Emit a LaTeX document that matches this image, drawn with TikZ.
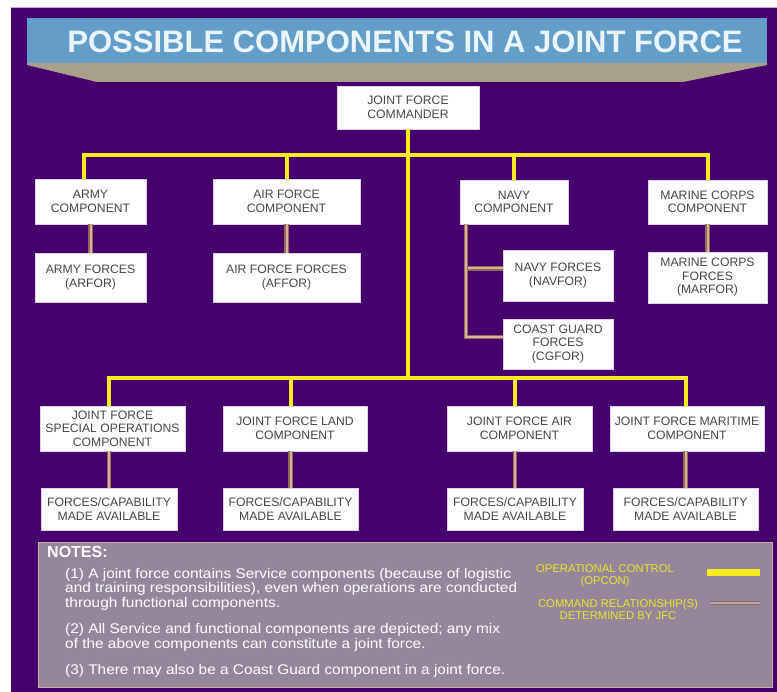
\documentclass[tikz,border=0pt]{standalone}
\usepackage{fontspec}
\setmainfont{Liberation Sans}
\newfontfamily\notesfont[FakeStretch=1.1]{Liberation Sans}
\definecolor{bgpurple}{RGB}{70,0,108}
\definecolor{bgedge}{RGB}{200,170,220}
\definecolor{bannerblue}{RGB}{98,158,200}
\definecolor{bannertan}{RGB}{168,160,138}
\definecolor{titlewhite}{RGB}{235,245,255}
\definecolor{boxedge}{RGB}{220,210,225}
\definecolor{boxtext}{RGB}{70,70,70}
\definecolor{opyellow}{RGB}{245,235,30}
\definecolor{relbrown}{RGB}{150,105,85}
\definecolor{relinner}{RGB}{215,180,160}
\definecolor{notesfill}{RGB}{150,134,156}
\definecolor{notesedge}{RGB}{205,175,165}
\definecolor{legendyellow}{RGB}{232,232,40}
\usetikzlibrary{calc}
\tikzstyle{unitbox}=[
        fill=white,
        draw=boxedge,
        inner sep=1pt,
        align=center,
        text=boxtext,
        font=\fontsize{12.2}{13.5}\selectfont
]
\tikzstyle{opcon}=[
        draw=opyellow,
        line width=4pt
]
\tikzstyle{cmdrel}=[
        draw=relbrown,
        double=relinner,
        line width=1.3pt,
        double distance=2pt
]
\tikzstyle{legendtext}=[
        text=legendyellow,
        align=center,
        inner sep=0pt,
        font=\fontsize{11.3}{12}\selectfont
]

\begin{document}
\begin{tikzpicture}[x=1pt,y=-1pt]
                    \useasboundingbox (0,0) rectangle (777,692);
                    \fill[white] (0,0) rectangle (777,692);
                    \fill[bgpurple] (11,8) rectangle (777,692);
                    \draw[bgedge, line width=1pt] (11,8) -- (777,8);

                    \fill[bannerblue] (27,18) rectangle (767,63);
                    \fill[bannertan] (27,63) -- (767,63) -- (767,65) -- (683,82) -- (97,82) -- (27,65) -- cycle;
                    \node[text=titlewhite, font=\fontsize{31}{31}\bfseries] (title) at (405,42) {POSSIBLE COMPONENTS IN A JOINT FORCE};

                    \node[unitbox, minimum width=142, minimum height=43] (jfc) at (408,107.5) {JOINT FORCE\\COMMANDER};

                    \node[unitbox, minimum width=111, minimum height=45] (army) at (90.5,201.5) {ARMY\\COMPONENT};
                    \node[unitbox, minimum width=147, minimum height=45] (airf) at (286.5,201.5) {AIR FORCE\\COMPONENT};
                    \node[unitbox, minimum width=108, minimum height=44] (navy) at (514,202) {NAVY\\COMPONENT};
                    \node[unitbox, minimum width=119, minimum height=44] (marine) at (707.5,202) {MARINE CORPS\\COMPONENT};

                    \node[unitbox, minimum width=111, minimum height=49] (armyfor) at (90.5,277.5) {ARMY FORCES\\(ARFOR)};
                    \node[unitbox, minimum width=147, minimum height=49] (airfor) at (286.5,277.5) {AIR FORCE FORCES\\(AFFOR)};
                    \node[unitbox, minimum width=110, minimum height=51] (navyfor) at (558,275.5) {NAVY FORCES\\(NAVFOR)};
                    \node[unitbox, minimum width=119, minimum height=51] (marinefor) at (707.5,277.5) {MARINE CORPS\\FORCES\\(MARFOR)};
                    \node[unitbox, minimum width=110, minimum height=50] (cgfor) at (558,344) {COAST GUARD\\FORCES\\(CGFOR)};

                    \node[unitbox, minimum width=145, minimum height=45] (sof) at (112.5,428.5) {JOINT FORCE\\SPECIAL OPERATIONS\\COMPONENT};
                    \node[unitbox, minimum width=144, minimum height=45] (land) at (295,428.5) {JOINT FORCE LAND\\COMPONENT};
                    \node[unitbox, minimum width=145, minimum height=45] (jfair) at (519.5,428.5) {JOINT FORCE AIR\\COMPONENT};
                    \node[unitbox, minimum width=154, minimum height=45] (maritime) at (687,428.5) {JOINT FORCE MARITIME\\COMPONENT};

                    \foreach \name/\x/\w in {f1/109/136, f2/290.5/135, f3/515/136, f4/685.5/145} {
                        \node[unitbox, minimum width=\w, minimum height=42] (\name) at (\x,509) {FORCES/CAPABILITY\\MADE AVAILABLE};
                    }

                    \coordinate (topbus) at (408,155);
                    \coordinate (lowbus) at (408,378);

                    \draw[opcon] (jfc.south) -- (lowbus);
                    \draw[opcon] ([xshift=-7]army.north) |- (topbus) -| (marine.north);
                    \draw[opcon] (airf.north) -- (airf.north |- topbus);
                    \draw[opcon] (navy.north) -- (navy.north |- topbus);
                    \draw[opcon] (sof.north -| f1) |- (lowbus) -| (maritime.north -| f4);
                    \foreach \top/\low in {land/f2, jfair/f3} {
                        \draw[opcon] (\top.north -| \low) -- (\low |- lowbus);
                    }

                    \draw[cmdrel] (army) -- (armyfor);
                    \draw[cmdrel] (airf) -- (airfor);
                    \draw[cmdrel] (marine) -- (marinefor);
                    \foreach \top/\low in {sof/f1, land/f2, jfair/f3, maritime/f4} {
                        \draw[cmdrel] (\top.south -| \low) -- (\low.north);
                    }

                    \coordinate (navytap) at ([xshift=-48]navy.south);
                    \draw[cmdrel] ([yshift=7]navyfor.west) -- ([yshift=7]navyfor.west -| navytap);
                    \draw[cmdrel] (navytap) |- ([yshift=7]cgfor.west);

                    \node[fill=notesfill, draw=notesedge, line width=1pt, minimum width=734, minimum height=144] (notes) at (405,615) {};
                    \node[anchor=west, text=white, inner sep=0pt, font=\fontsize{16}{16}\bfseries] (noteshead) at (47,552) {NOTES:};
                    \node[anchor=north west, align=left, text=white, inner sep=0pt, font=\notesfont\fontsize{14}{14.5}\selectfont] (notestext) at (65,568) {(1) A joint force contains Service components (because of logistic\\and training responsibilities), even when operations are conducted\\through functional components.\\[12pt](2) All Service and functional components are depicted; any mix\\of the above components can constitute a joint force.\\[12pt](3) There may also be a Coast Guard component in a joint force.};

                    \node[legendtext] (opconlbl) at (605,576) {OPERATIONAL CONTROL\\(OPCON)};
                    \node[legendtext] (cmdlbl) at (618,609) {COMMAND RELATIONSHIP(S)\\DETERMINED BY JFC};
                    \coordinate (opkeyA) at (707,572);
                    \coordinate (opkeyB) at (760,572);
                    \coordinate (relkeyA) at (710,603);
                    \coordinate (relkeyB) at (760,603);
                    \draw[opcon, line width=7pt] (opkeyA) -- (opkeyB);
                    \draw[cmdrel, line width=0.8pt, double=notesfill!70!white] (relkeyA) -- (relkeyB);
                \end{tikzpicture}
\end{document}
